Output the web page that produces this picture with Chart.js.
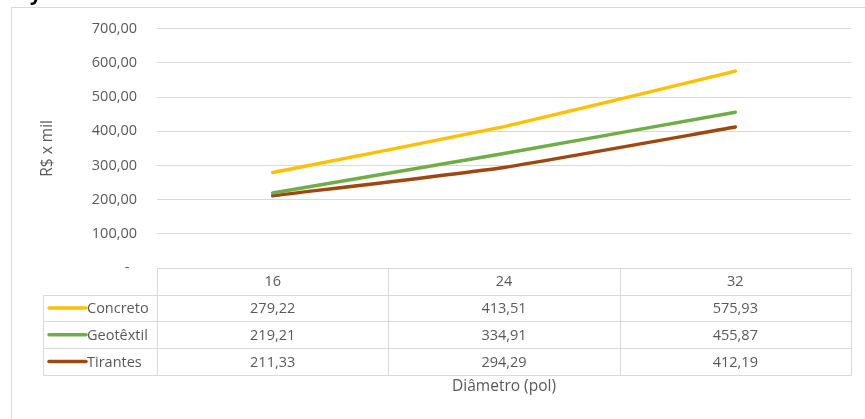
<!DOCTYPE html>
<html>
<head>
<meta charset="utf-8">
<script src="https://cdn.jsdelivr.net/npm/chart.js@4.4.1/dist/chart.umd.min.js"></script>
<style>
  html, body { margin: 0; padding: 0; background: #ffffff; }
  #wrap { position: relative; width: 865px; height: 419px; }
</style>
</head>
<body>
<div id="wrap"><canvas id="c"></canvas></div>
<script>
const categories = ['16', '24', '32'];
const seriesNames = ['Concreto', 'Geotêxtil', 'Tirantes'];
const concreto = [279.22, 413.51, 575.93];
const geotextil = [219.21, 334.91, 455.87];
const tirantes = [211.33, 294.29, 412.19];
const seriesColors = ['#FFC000', '#70AD47', '#9E480E'];
const yAxisTitle = 'R$ x mil';
const xAxisTitle = 'Diâmetro (pol)';
const titleFragment = 'y';

const FONT = '"Open Sans", "Noto Sans", sans-serif';
const TEXT = '#595959';
const GRID = '#d9d9d9';
const fmt = v => v.toFixed(2).replace('.', ',');
const seriesData = [concreto, geotextil, tirantes];

const tablePlugin = {
  id: 'dataTable',
  beforeDraw(chart) {
    const ctx = chart.ctx;
    ctx.save();
    ctx.fillStyle = '#ffffff';
    ctx.fillRect(0, 0, chart.width, chart.height);
    ctx.strokeStyle = GRID;
    ctx.lineWidth = 1;
    ctx.strokeRect(11.5, 7.5, 900, 500);
    ctx.fillStyle = '#000000';
    ctx.font = 'bold 20px ' + FONT;
    ctx.textAlign = 'left';
    ctx.textBaseline = 'alphabetic';
    ctx.fillText(titleFragment, 30, 0);
    ctx.restore();
  },
  afterDraw(chart) {
    const ctx = chart.ctx;
    const area = chart.chartArea;
    const xs = chart.scales.x;
    const n = categories.length;
    const colW = (area.right - area.left) / n;
    const rowH = 26.7;
    const top = area.bottom;
    const legLeft = 43;
    ctx.save();
    ctx.strokeStyle = GRID;
    ctx.lineWidth = 1;
    const px = v => Math.round(v) + 0.5;
    ctx.beginPath();
    ctx.moveTo(px(area.left), px(top));
    ctx.lineTo(px(area.right), px(top));
    for (let r = 1; r <= seriesNames.length + 1; r++) {
      const y = px(top + r * rowH);
      ctx.moveTo(px(legLeft), y);
      ctx.lineTo(px(area.right), y);
    }
    for (let c = 0; c <= n; c++) {
      const x = px(area.left + c * colW);
      ctx.moveTo(x, px(top));
      ctx.lineTo(x, px(top + (seriesNames.length + 1) * rowH));
    }
    ctx.moveTo(px(legLeft), px(top + rowH));
    ctx.lineTo(px(legLeft), px(top + (seriesNames.length + 1) * rowH));
    ctx.stroke();

    ctx.fillStyle = TEXT;
    ctx.font = '14.5px ' + FONT;
    ctx.textBaseline = 'middle';
    ctx.textAlign = 'center';
    categories.forEach((cat, i) => {
      ctx.fillText(cat, xs.getPixelForValue(i), top + rowH / 2 + 1);
    });
    seriesNames.forEach((name, s) => {
      const cy = top + (s + 1) * rowH + rowH / 2 + 1;
      seriesData[s].forEach((v, i) => {
        ctx.textAlign = 'center';
        ctx.fillText(fmt(v), xs.getPixelForValue(i), cy);
      });
      ctx.strokeStyle = seriesColors[s];
      ctx.lineWidth = 3.5;
      ctx.lineCap = 'round';
      ctx.beginPath();
      ctx.moveTo(49, cy - 1);
      ctx.lineTo(86, cy - 1);
      ctx.stroke();
      ctx.textAlign = 'left';
      ctx.fillStyle = TEXT;
      ctx.fillText(name, 87, cy);
    });
    ctx.textAlign = 'center';
    ctx.font = '15.5px ' + FONT;
    ctx.fillText(xAxisTitle, (area.left + area.right) / 2, 387);
    ctx.save();
    ctx.translate(48, (area.top + area.bottom) / 2);
    ctx.rotate(-Math.PI / 2);
    ctx.fillText(yAxisTitle, 0, 0);
    ctx.restore();
    ctx.restore();
  }
};

new Chart(document.getElementById('c'), {
  type: 'line',
  data: {
    labels: categories,
    datasets: seriesNames.map((name, s) => ({
      label: name,
      data: seriesData[s],
      borderColor: seriesColors[s],
      backgroundColor: seriesColors[s],
      borderWidth: 3.5,
      borderCapStyle: 'round',
      borderJoinStyle: 'round',
      pointRadius: 0,
      tension: 0.15,
      fill: false
    }))
  },
  options: {
    responsive: true,
    maintainAspectRatio: false,
    animation: false,
    layout: { padding: { top: 27, right: 14, bottom: 151, left: 0 } },
    plugins: { legend: { display: false }, tooltip: { enabled: false }, title: { display: false } },
    scales: {
      x: {
        type: 'category',
        offset: true,
        ticks: { display: false },
        grid: { display: false },
        border: { display: false },
        afterFit: s => { s.height = 0; }
      },
      y: {
        min: 0,
        max: 700,
        ticks: {
          stepSize: 100,
          color: TEXT,
          font: { family: FONT, size: 14.5 },
          padding: 20,
          callback: v => v === 0 ? '-  ' : fmt(v)
        },
        grid: { color: GRID, lineWidth: 1, drawTicks: false },
        border: { display: false },
        afterFit: s => { s.width = 157; }
      }
    }
  },
  plugins: [tablePlugin]
});
</script>
</body>
</html>
